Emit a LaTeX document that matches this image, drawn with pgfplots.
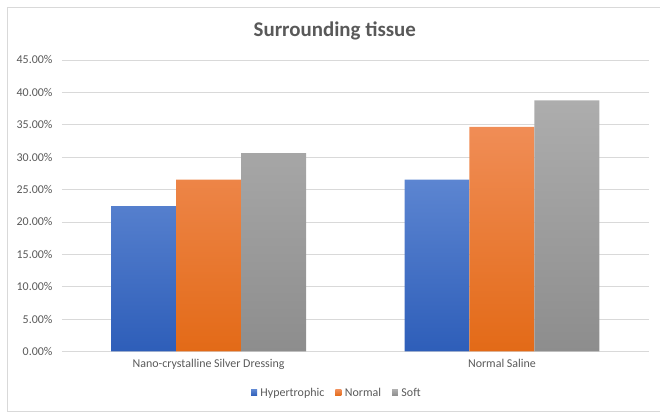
\documentclass[border=0pt]{standalone}
\usepackage{pgfplots}
\pgfplotsset{compat=1.18}
\usepackage{fontspec}
\setmainfont{Carlito}
\definecolor{txt}{HTML}{595959}
\definecolor{gridc}{HTML}{D9D9D9}
\definecolor{bT}{HTML}{5C85D1}
\definecolor{bB}{HTML}{2E5EB9}
\definecolor{oT}{HTML}{F08D56}
\definecolor{oB}{HTML}{E36A17}
\definecolor{gT}{HTML}{ADADAD}
\definecolor{gB}{HTML}{8D8D8D}
\definecolor{bL}{HTML}{4472C4}
\definecolor{oL}{HTML}{ED7D31}
\definecolor{gL}{HTML}{A5A5A5}
\begin{document}
\begin{tikzpicture}[x=1bp,y=1bp]
\path (0,0) rectangle (660,413);
\draw[gridc, line width=0.8bp] (660,406) -- (7,406) -- (7,1.5) -- (660,1.5);
\begin{axis}[
  at={(62bp,61.3bp)}, anchor=south west,
  scale only axis, width=587bp, height=291.7bp,
  xmin=-0.5, xmax=1.5, ymin=0, ymax=45,
  ybar=0pt, bar width=0.2215,
  xtick={0,1},
  xticklabels={Nano-crystalline Silver Dressing, Normal Saline},
  ytick={0,5,...,45},
  yticklabel={\pgfmathprintnumber[fixed,fixed zerofill,precision=2]{\tick}\%},
  ymajorgrids, grid style={gridc, line width=0.8bp},
  axis line style={draw=none},
  major tick length=0pt,
  tick label style={font=\fontsize{12}{14}\selectfont, text=txt},
  /pgf/number format/assume math mode=true,
  yticklabel style={anchor=east, xshift=-6bp},
  xticklabel style={anchor=north, yshift=-4bp},
  legend style={at={(0.4685,-0.1416)}, anchor=center, legend columns=-1,
    draw=none, fill=none, font=\fontsize{12}{14}\selectfont, text=txt,
    /tikz/every even column/.append style={column sep=9bp},
    /tikz/every odd column/.append style={column sep=1.5bp}},
]
\addplot[draw=none, top color=bT, bottom color=bB,
  legend image code/.code={\fill[bL] (0bp,-3bp) rectangle (6bp,3bp);}]
  coordinates {(0,22.45) (1,26.53)};
\addplot[draw=none, top color=oT, bottom color=oB,
  legend image code/.code={\fill[oL] (0bp,-3bp) rectangle (6bp,3bp);}]
  coordinates {(0,26.53) (1,34.69)};
\addplot[draw=none, top color=gT, bottom color=gB,
  legend image code/.code={\fill[gL] (0bp,-3bp) rectangle (6bp,3bp);}]
  coordinates {(0,30.61) (1,38.78)};
\legend{Hypertrophic, Normal, Soft}
\end{axis}
\node[font=\fontsize{21}{24}\selectfont\bfseries, text=txt] at (335,382) {Surrounding tissue};
\end{tikzpicture}
\end{document}
